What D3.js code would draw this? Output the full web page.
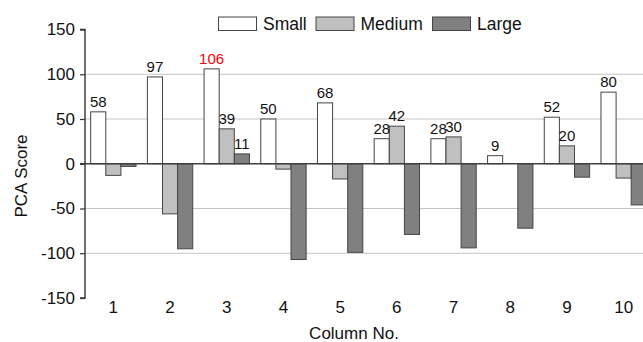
<!DOCTYPE html>
<html>
<head>
<meta charset="utf-8">
<script src="https://cdn.jsdelivr.net/npm/d3@7"></script>
<style>
  html, body { margin: 0; padding: 0; background: #fff; }
  svg { display: block; font-family: "Liberation Sans", Arial, sans-serif; }
</style>
</head>
<body>
<svg id="chart" width="643" height="342"></svg>
<script>
const categories = ["1", "2", "3", "4", "5", "6", "7", "8", "9", "10"];
const seriesNames = ["Small", "Medium", "Large"];
const smallValues  = [58, 97, 106, 50, 68, 28, 28, 9, 52, 80];
const mediumValues = [-13, -56, 39, -6, -17, 42, 30, 0, 20, -16];
const largeValues  = [-3, -95, 11, -107, -99, -79, -94, -72, -15, -46];
const yTicks = [-150, -100, -50, 0, 50, 100, 150];
const gridValues = [-100, -50, 50, 100];
const highlightLabel = { series: "Small", category: "3" };

const seriesValues = { Small: smallValues, Medium: mediumValues, Large: largeValues };
const fills = { Small: "#ffffff", Medium: "#c0c0c0", Large: "#808080" };

const svg = d3.select("#chart");
const x = d3.scaleBand().domain(categories).range([85, 652]).paddingInner(0).paddingOuter(0);
const bw = x.bandwidth();
const xs = d3.scaleBand().domain(seriesNames).range([bw * 0.1, bw * 0.9]).padding(0);
const y = d3.scaleLinear().domain([-150, 150]).range([298, 29.5]);

// gridlines
svg.append("g").selectAll("line").data(gridValues).join("line")
  .attr("x1", 85).attr("x2", 643)
  .attr("y1", d => y(d)).attr("y2", d => y(d))
  .attr("stroke", "#c4c4c4").attr("stroke-width", 1);

// bars
const data = [];
categories.forEach((c, i) => seriesNames.forEach(s => data.push({ c, s, v: seriesValues[s][i] })));
svg.append("g").selectAll("rect").data(data.filter(d => d.v !== 0)).join("rect")
  .attr("x", d => x(d.c) + xs(d.s))
  .attr("width", xs.bandwidth())
  .attr("y", d => y(Math.max(0, d.v)))
  .attr("height", d => Math.abs(y(d.v) - y(0)))
  .attr("fill", d => fills[d.s])
  .attr("stroke", "#454545").attr("stroke-width", 1);

// zero line
svg.append("line")
  .attr("x1", 80).attr("x2", 643)
  .attr("y1", y(0)).attr("y2", y(0))
  .attr("stroke", "#404040").attr("stroke-width", 1.6);

// y axis
const yAxis = d3.axisLeft(y).tickValues(yTicks).tickSize(5).tickPadding(5).tickFormat(d => String(d));
const gy = svg.append("g").attr("transform", "translate(85,0)").call(yAxis);
gy.select(".domain").attr("stroke", "#333").attr("stroke-width", 1.4).attr("d", `M-5,${y(150)}H0V${y(-150)}H-5`);
gy.selectAll(".tick line").attr("stroke", "#333").attr("stroke-width", 1.2);
gy.selectAll(".tick text").attr("font-size", 17).attr("fill", "#111")
  .attr("font-family", "Liberation Sans, Arial, sans-serif");

// x category labels
svg.append("g").selectAll("text").data(categories).join("text")
  .attr("x", d => x(d) + bw / 2).attr("y", 313)
  .attr("text-anchor", "middle").attr("font-size", 17).attr("fill", "#111")
  .text(d => d);

// data labels (positive values only)
svg.append("g").selectAll("text").data(data.filter(d => d.v > 0)).join("text")
  .attr("x", d => x(d.c) + xs(d.s) + xs.bandwidth() / 2)
  .attr("y", d => y(d.v) - 5)
  .attr("text-anchor", "middle").attr("font-size", 15)
  .attr("fill", d => (d.s === highlightLabel.series && d.c === highlightLabel.category) ? "#ff0000" : "#111")
  .text(d => d.v);

// axis titles
svg.append("text").attr("x", 354).attr("y", 339).attr("text-anchor", "middle")
  .attr("font-size", 17).attr("fill", "#111").text("Column No.");
svg.append("text").attr("transform", "translate(27,176) rotate(-90)").attr("text-anchor", "middle")
  .attr("font-size", 17).attr("fill", "#111").text("PCA Score");

// legend
const legendX = [218.5, 316, 432.5];
const lg = svg.append("g").selectAll("g").data(seriesNames).join("g")
  .attr("transform", (d, i) => `translate(${legendX[i]},17)`);
lg.append("rect").attr("width", 38).attr("height", 13.5)
  .attr("fill", d => fills[d]).attr("stroke", "#454545").attr("stroke-width", 1);
lg.append("text").attr("x", 44.5).attr("y", 12.5).attr("font-size", 17.5).attr("fill", "#111").text(d => d);
</script>
</body>
</html>
